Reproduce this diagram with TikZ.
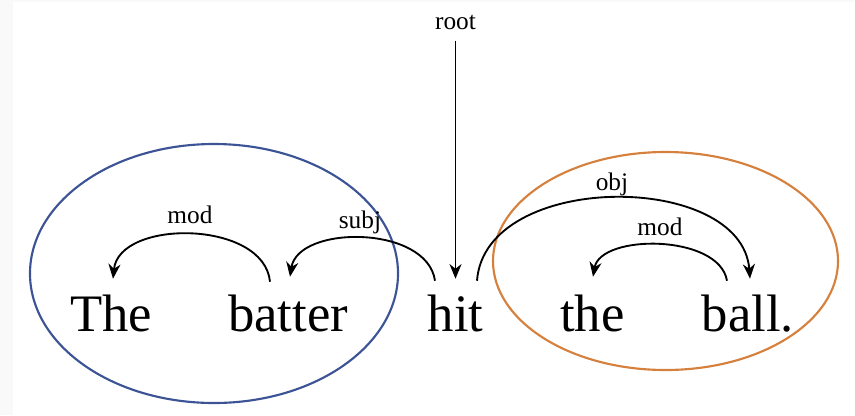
\documentclass[tikz,border=0pt]{standalone}
\usepackage{fontspec}
\setmainfont{Liberation Serif}
\usetikzlibrary{arrows.meta,calc}
\definecolor{ellblue}{RGB}{60,84,150}
\definecolor{ellorange}{RGB}{214,128,62}
\definecolor{edgegray}{RGB}{249,249,249}
\tikzset{
  word/.style={font=\fontsize{39.5}{40}\selectfont, inner sep=0pt, text height=39pt, anchor=base},
  lbl/.style={font=\fontsize{19}{20}\selectfont, inner sep=0pt, anchor=base},
  dep/.style={line width=1.4pt, -{Stealth[length=11pt,width=9pt,inset=3.5pt]}},
  grp/.style={line width=1.6pt}
}
\begin{document}
\begin{tikzpicture}[x=0.75pt,y=-0.75pt]
\useasboundingbox (0,0) rectangle (855,415);
\fill[edgegray] (0,0) rectangle (13,415);
\fill[edgegray] (13,0) rectangle (855,2);
% words
\node[word] (w1) at (111,331) {The};
\node[word] (w2) at (288,331) {batter};
\node[word] (w3) at (455.5,331) {hit};
\node[word] (w4) at (592.5,331) {the};
\node[word] (w5) at (748,331) {ball.};
% group ellipses
\draw[grp, ellblue] (214,273.5) ellipse [x radius=184, y radius=129.5];
\draw[grp, ellorange] (665.5,261) ellipse [x radius=172.5, y radius=109];
% root
\node[lbl] (root) at (455.5,29) {root};
\draw[dep] ($(root.south)+(0,11)$) -- (w3.north);
% tails of arcs
\coordinate (t2) at ($(w2.north)+(-18,3)$);
\coordinate (t3a) at ($(w3.north)+(-20.5,2)$);
\coordinate (t3b) at ($(w3.north)+(21.5,2)$);
\coordinate (t5) at ($(w5.north)+(-21,2)$);
% arcs
\draw[dep] (t2) .. controls ($(t2)+(-6,-62)$) and ($(w1.north)+(8,-60)$) .. ($(w1.north)+(2,0)$);
\draw[dep] (t3a) .. controls ($(t3a)+(-8,-56)$) and ($(w2.north)+(10,-54)$) .. ($(w2.north)+(2,-2)$);
\draw[dep] (t3b) .. controls ($(t3b)+(8,-110)$) and ($(w5.north)+(-6,-108)$) .. ($(w5.north)+(2,0)$);
\draw[dep] (t5) .. controls ($(t5)+(-8,-47)$) and ($(w4.north)+(8,-45)$) .. ($(w4.north)+(0.5,-2)$);
% labels
\node[lbl] (l1) at (190,223) {mod};
\node[lbl] (l2) at (360,228) {subj};
\node[lbl] (l3) at (612,190) {obj};
\node[lbl] (l4) at (660,235) {mod};
\end{tikzpicture}
\end{document}
